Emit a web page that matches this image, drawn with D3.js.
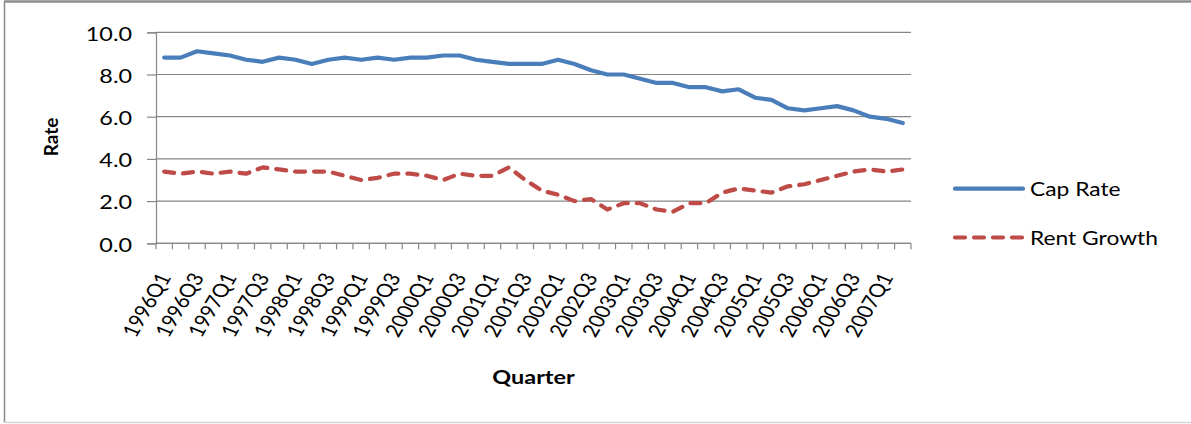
<!DOCTYPE html>
<html>
<head>
<meta charset="utf-8">
<script src="https://cdn.jsdelivr.net/npm/d3@7"></script>
<style>
  html, body { margin: 0; padding: 0; background: #ffffff; }
  svg { display: block; font-family: Lato, "Open Sans", sans-serif; }
</style>
</head>
<body>
<svg id="chart" width="1191" height="424"></svg>
<script>
// Quarterly series, 1996Q1 - 2007Q2
const quarters = [];
for (let y = 1996; y <= 2007; y++) {
  for (let q = 1; q <= 4; q++) {
    if (y === 2007 && q > 2) break;
    quarters.push(y + "Q" + q);
  }
}

const capRate = [
  8.8, 8.8, 9.1, 9.0,
  8.9, 8.7, 8.6, 8.8,
  8.7, 8.5, 8.7, 8.8,
  8.7, 8.8, 8.7, 8.8,
  8.8, 8.9, 8.9, 8.7,
  8.6, 8.5, 8.5, 8.5,
  8.7, 8.5, 8.2, 8.0,
  8.0, 7.8, 7.6, 7.6,
  7.4, 7.4, 7.2, 7.3,
  6.9, 6.8, 6.4, 6.3,
  6.4, 6.5, 6.3, 6.0,
  5.9, 5.7
];

const rentGrowth = [
  3.4, 3.3, 3.4, 3.3,
  3.4, 3.3, 3.6, 3.5,
  3.4, 3.4, 3.4, 3.2,
  3.0, 3.1, 3.3, 3.3,
  3.2, 3.0, 3.3, 3.2,
  3.2, 3.6, 3.0, 2.5,
  2.3, 2.0, 2.1, 1.6,
  1.9, 1.9, 1.6, 1.5,
  1.9, 1.9, 2.4, 2.6,
  2.5, 2.4, 2.7, 2.8,
  3.0, 3.2, 3.4, 3.5,
  3.4, 3.5
];

const yTicks = [0, 2, 4, 6, 8, 10];
const xTickLabels = quarters.filter((d, i) => i % 2 === 0);

const seriesNames = ["Cap Rate", "Rent Growth"];
const seriesColors = ["#4a7ebb", "#be4b48"];

// ---- layout ----
const svg = d3.select("#chart");
const plot = { left: 156, right: 911, top: 32.3, bottom: 243.3 };
const textStretch = 1.2;   // wide text face
const gridColor = "#878787";

const x = d3.scaleBand().domain(quarters).range([plot.left, plot.right]).padding(0);
const y = d3.scaleLinear().domain([0, 10]).range([plot.bottom, plot.top]);
const cx = d => x(d) + x.bandwidth() / 2;

// outer frame
svg.append("line").attr("x1", 4.5).attr("x2", 4.5).attr("y1", 1).attr("y2", 423)
  .attr("stroke", "#8c8c8c").attr("stroke-width", 1.5);
svg.append("line").attr("x1", 4).attr("x2", 1191).attr("y1", 1.5).attr("y2", 1.5)
  .attr("stroke", "#8c8c8c").attr("stroke-width", 2.5);
svg.append("line").attr("x1", 4).attr("x2", 1191).attr("y1", 422.5).attr("y2", 422.5)
  .attr("stroke", "#d4d4d4").attr("stroke-width", 1.5);

// helper: text drawn in a horizontally widened face
function stretchedText(parent, tx, ty, str, opts) {
  const g = parent.append("g")
    .attr("transform", `translate(${tx},${ty}) scale(${opts.sx || textStretch},1)` +
      (opts.rotate ? ` rotate(${opts.rotate})` : ""));
  return g.append("text")
    .attr("text-anchor", opts.anchor || "start")
    .attr("dominant-baseline", opts.baseline || "alphabetic")
    .attr("font-size", opts.size)
    .attr("font-weight", opts.weight || "normal")
    .attr("fill", "#000")
    .text(str);
}

// horizontal gridlines
svg.append("g").selectAll("line").data(yTicks).join("line")
  .attr("x1", plot.left).attr("x2", plot.right)
  .attr("y1", d => y(d)).attr("y2", d => y(d))
  .attr("stroke", gridColor).attr("stroke-width", 1.2);

// y axis
const yAxis = svg.append("g")
  .attr("transform", `translate(${plot.left},0)`)
  .call(d3.axisLeft(y).tickValues(yTicks).tickSize(9).tickFormat(""));
yAxis.select(".domain").attr("stroke", gridColor).attr("stroke-width", 1.2);
yAxis.selectAll(".tick line").attr("stroke", gridColor).attr("stroke-width", 1.2);

const yLabels = svg.append("g");
yTicks.forEach(v => {
  stretchedText(yLabels, 132, y(v) + 1, d3.format(".1f")(v),
    { anchor: "end", baseline: "central", size: 19.5 });
});

// x axis: tick marks sit on category boundaries
const boundaries = d3.range(quarters.length + 1).map(i => plot.left + i * x.bandwidth());
svg.append("line").attr("x1", plot.left).attr("x2", plot.right)
  .attr("y1", plot.bottom).attr("y2", plot.bottom)
  .attr("stroke", gridColor).attr("stroke-width", 1.2);
svg.append("g").selectAll("line").data(boundaries).join("line")
  .attr("x1", d => d).attr("x2", d => d)
  .attr("y1", plot.bottom).attr("y2", plot.bottom + 6)
  .attr("stroke", gridColor).attr("stroke-width", 1.2);

const xLabels = svg.append("g");
xTickLabels.forEach(q => {
  stretchedText(xLabels, cx(q) + 7.5, 277, q,
    { anchor: "end", size: 18.5, rotate: -64 });
});

// axis titles
stretchedText(svg, 533.5, 384, "Quarter", { anchor: "middle", size: 19.5, weight: "bold" });
stretchedText(svg, 58, 137, "Rate", { anchor: "middle", size: 19, weight: "bold", sx: 1, rotate: -90 });

// series lines
const line = vals => d3.line()
  .x((d, i) => cx(quarters[i]))
  .y(d => y(d))(vals);

svg.append("path").attr("d", line(rentGrowth))
  .attr("fill", "none").attr("stroke", seriesColors[1]).attr("stroke-width", 4.2)
  .attr("stroke-dasharray", "10,9").attr("stroke-linecap", "round").attr("stroke-linejoin", "round");

svg.append("path").attr("d", line(capRate))
  .attr("fill", "none").attr("stroke", seriesColors[0]).attr("stroke-width", 4.2)
  .attr("stroke-linecap", "round").attr("stroke-linejoin", "round");

// legend
const legend = svg.append("g");
const legendRows = [188.7, 237.5];
seriesNames.forEach((name, i) => {
  const ly = legendRows[i];
  legend.append("line")
    .attr("x1", 955).attr("x2", 1023).attr("y1", ly).attr("y2", ly)
    .attr("stroke", seriesColors[i]).attr("stroke-width", 4.2)
    .attr("stroke-linecap", "round")
    .attr("stroke-dasharray", i === 1 ? "10,9" : null);
  stretchedText(legend, 1030, ly + 7.5, name, { anchor: "start", size: 19 });
});
</script>
</body>
</html>
